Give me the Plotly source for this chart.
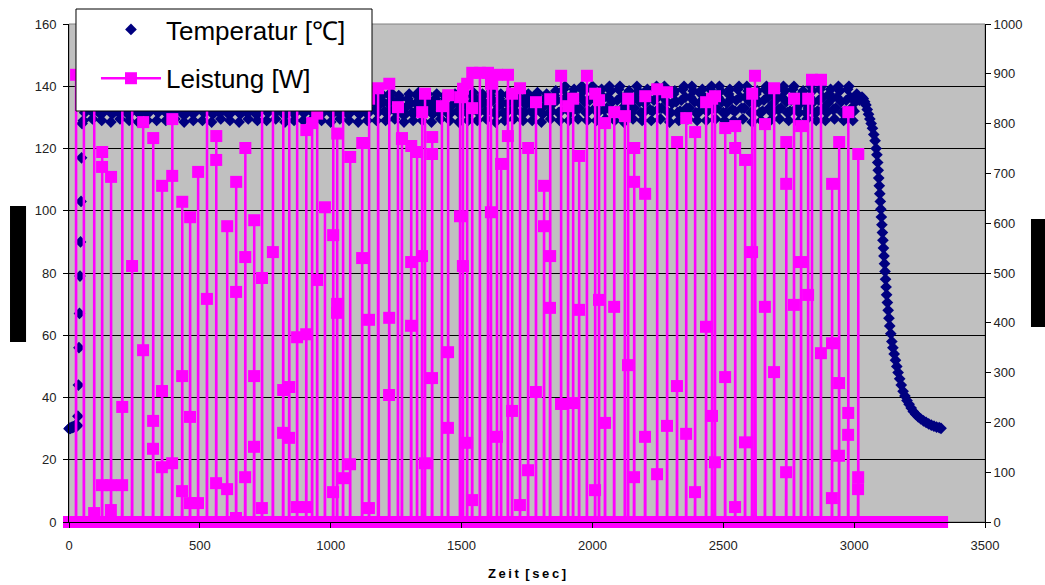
import plotly.graph_objects as go

# ---------------- data ----------------
# Temperature [°C]: start, plateau (5 s samples), cooling
temp_start_t = [0, 3, 6, 9, 12, 15, 18, 21, 24, 27, 30, 32, 34, 36, 38, 40, 42, 44, 46, 48, 50]
temp_start_v = [30.0, 30.2, 30.1, 30.4, 30.3, 30.6, 30.5, 30.8, 31.0, 30.7, 31.2, 30.9, 34, 44, 56, 67, 79, 90, 103, 117, 128]

temp_plateau_t0 = 55
temp_plateau_step = 5
temp_plateau_v = [
    129, 131.5, 134, 136.5, 137.5, 135, 132, 129.5, 132, 134.5, 137, 136, 133.5, 131,
    129, 131.5, 134.5, 137, 138, 135.5, 132.5, 128.5, 131, 133.5, 136, 137.5, 134.5, 131.5,
    129.5, 132, 134.5, 137, 136, 133.5, 131, 129, 131.5, 134, 136.5, 137.5, 135, 132,
    128.5, 131, 133.5, 136, 137.5, 134.5, 131.5, 129, 131.5, 134.5, 137, 138, 135.5, 132.5,
    129, 131.5, 134, 136.5, 137.5, 135, 132, 129, 131.5, 134.5, 137, 138, 135.5, 132.5,
    129.5, 132, 134.5, 137, 136, 133.5, 131, 128.5, 131, 133.5, 136, 137.5, 134.5, 131.5,
    129, 131.5, 134.5, 137, 138, 135.5, 132.5, 129, 131.5, 134, 136.5, 137.5, 135, 132,
    128.5, 131, 133.5, 136, 137.5, 134.5, 131.5, 129.5, 132, 134.5, 137, 136, 133.5, 131,
    129, 131.5, 134, 136.5, 137.5, 135, 132, 128.5, 131, 133.5, 136, 137.5, 134.5, 131.5,
    129.5, 132, 134.5, 137, 136, 133.5, 131, 129, 131.5, 134.5, 137, 138, 135.5, 132.5,
    129, 131.5, 134.5, 137, 138, 135.5, 132.5, 129.5, 132, 134.5, 137, 136, 133.5, 131,
    128.5, 131, 133.5, 136, 137.5, 134.5, 131.5, 129, 131.5, 134, 136.5, 137.5, 135, 132,
    129, 131.5, 134, 136.5, 137.5, 135, 132, 129.5, 132, 134.5, 137, 136, 133.5, 131,
    129, 131.5, 134.5, 137, 138, 135.5, 132.5, 128.5, 131, 133.5, 136, 137.5, 134.5, 131.5,
    129.5, 132, 134.5, 137, 136, 133.5, 131, 129, 131.5, 134, 136.5, 137.5, 135, 132,
    128.5, 131, 133.5, 136, 137.5, 134.5, 131.5, 129, 131.5, 134.5, 137, 138, 135.5, 132.5,
    129, 131.5, 134, 136.5, 137.5, 135, 132, 129, 131.5, 134.5, 137, 138, 135.5, 132.5,
    129.5, 132, 134.5, 137, 136, 133.5, 131, 128.5, 131, 133.5, 136, 137.5, 134.5, 131.5,
    129, 131.5, 134.5, 137, 138, 135.5, 132.5, 129, 131.5, 134, 136.5, 137.5, 135, 132,
    128.5, 131, 133.5, 136, 137.5, 134.5, 131.5, 129.5, 132, 134.5, 137, 136, 133.5, 131,
    129, 131.5, 134, 136.5, 137.5, 135, 132, 128.5, 131, 133.5, 136, 137.5, 134.5, 131.5,
    129, 131.5, 134.5, 137, 138, 135.5, 132.5, 129, 131.5, 134, 136.5, 137.5, 135, 132,
    129.5, 132, 134.5, 137, 138.5, 135.5, 131.5, 128.5, 131, 133.5, 136, 137.5, 134.5, 131.5,
    129, 131.5, 134.5, 137, 138, 135.5, 132.5, 129.5, 132, 134.5, 137, 138.5, 135.5, 131.5,
    129, 131.5, 134, 136.5, 137.5, 135, 132, 129, 131.5, 134.5, 137, 138, 135.5, 132.5,
    128.5, 131, 133.5, 136, 137.5, 134.5, 131.5, 129.5, 132, 134.5, 137, 138.5, 135.5, 131.5,
    129, 132, 135.5, 139, 140, 136.5, 133, 129, 131.5, 134.5, 137.5, 139, 136, 132.5,
    129.5, 133, 136.5, 140, 138.5, 135, 131.5, 129, 132, 135.5, 139, 140, 136.5, 133,
    129, 131.5, 134.5, 137.5, 139, 136, 132.5, 129.5, 133, 136.5, 140, 138.5, 135, 131.5,
    129, 132, 135.5, 139, 140, 136.5, 133, 128.5, 131.5, 134.5, 137.5, 138.5, 135, 131.5,
    129.5, 133, 136.5, 140, 138.5, 135, 131.5, 129, 131.5, 134.5, 137.5, 139, 136, 132.5,
    129, 132, 135.5, 139, 140, 136.5, 133, 129.5, 133, 136.5, 140, 138.5, 135, 131.5,
    128.5, 131.5, 134.5, 137.5, 138.5, 135, 131.5, 129, 132, 135.5, 139, 140, 136.5, 133,
    129.5, 133, 136.5, 140, 138.5, 135, 131.5, 129, 131.5, 134.5, 137.5, 139, 136, 132.5,
    129, 132, 135.5, 139, 140, 136.5, 133, 129.5, 133, 136.5, 140, 138.5, 135, 131.5,
    129, 131.5, 134.5, 137.5, 139, 136, 132.5, 129, 132, 135.5, 139, 140, 136.5, 133,
    129.5, 133, 136.5, 140, 138.5, 135, 131.5, 128.5, 131.5, 134.5, 137.5, 138.5, 135, 131.5,
    129, 132, 135.5, 139, 140, 136.5, 133, 129, 131.5, 134.5, 137.5, 139, 136, 132.5,
    129.5, 133, 136.5, 140, 138.5, 135, 131.5, 129, 132, 135.5, 139, 140, 136.5, 133,
    128.5, 131.5, 134.5, 137.5, 138.5, 135, 131.5, 129.5, 133, 136.5, 140, 138.5, 135, 131.5,
    129, 132, 135.5, 139, 140, 136.5, 133, 129, 131.5, 134.5, 137.5, 139, 136, 132.5,
    129.5, 133, 136.5, 140, 138.5, 135, 131.5, 129, 132, 135.5, 139, 140, 136.5, 133,
    129, 132, 135, 137.5, 136.5, 135.5, 136, 136.5,
]

cool_t = [3035, 3040, 3045, 3050, 3055, 3060, 3065, 3070, 3075, 3080, 3084, 3087, 3090, 3092, 3094, 3096, 3098, 3100,
          3102, 3104, 3106, 3108, 3110, 3112, 3114, 3116, 3118, 3120, 3122, 3124, 3127, 3130, 3133, 3136, 3140, 3144,
          3148, 3153, 3158, 3163, 3168, 3174, 3180, 3187, 3194, 3202, 3210, 3218, 3226, 3235, 3245, 3255, 3265, 3275,
          3285, 3295, 3305, 3315, 3325, 3332]
cool_v = [136, 135, 134, 132.5, 131, 129.5, 128, 126.5, 124.5, 122.5, 120, 118, 115.5, 113, 110.5, 108, 105.5, 103,
          100.5, 98, 95.5, 93, 90.5, 88, 85.5, 83, 80.5, 78, 75.5, 73, 70.5, 68, 65.5, 63, 60.5, 58,
          56, 54, 52, 50, 48, 46, 44, 42, 40.5, 39, 37.8, 36.6, 35.5, 34.6, 33.8, 33.1, 32.5, 32,
          31.5, 31.1, 30.8, 30.5, 30.3, 30.1]

# Power [W]: heating pulses (start time [s], sample values [W]) and zero samples
pulse_t = [27, 57, 96, 126, 160, 203, 241, 283, 321, 355, 394, 432, 462, 493, 527, 562, 604, 638, 673, 707,
           737, 779, 818, 841, 871, 906, 929, 948, 978, 1009, 1024, 1047, 1074, 1120, 1146, 1181, 1223, 1257,
           1272, 1307, 1330, 1349, 1360, 1387, 1425, 1448, 1494, 1505, 1521, 1540, 1570, 1601, 1612, 1635,
           1651, 1677, 1693, 1723, 1754, 1784, 1815, 1838, 1880, 1907, 1926, 1949, 1979, 2010, 2025, 2048,
           2083, 2124, 2136, 2159, 2201, 2247, 2285, 2323, 2358, 2392, 2434, 2457, 2468, 2507, 2545, 2583,
           2610, 2621, 2659, 2694, 2740, 2770, 2797, 2824, 2839, 2873, 2915, 2942, 2977, 3015]
pulse_v = [[898], [870], [18, 860], [74, 713, 743], [24, 74, 693], [74, 231, 880], [514, 870], [345, 803],
           [147, 203, 771], [110, 263, 675], [118, 695, 809], [62, 293, 643], [38, 211, 612], [38, 703],
           [448, 870], [78, 727, 775], [66, 594], [8, 462, 683], [90, 532, 751], [151, 293, 606],
           [28, 490, 880], [542, 860], [179, 265, 880], [169, 271, 850], [30, 371, 850], [30, 377, 787],
           [801], [486, 820], [632], [60, 576, 840], [420, 438, 780], [88, 860], [116, 733], [530, 761],
           [28, 406, 850], [871], [255, 410, 880], [833], [769, 771], [394, 522, 755], [743], [534, 823],
           [118, 860], [289, 739, 773], [835], [189, 341, 857], [614, 853], [514, 870], [159, 880],
           [44, 831, 902], [902], [902], [622, 880], [171, 898], [719], [775, 898], [223, 860], [34, 871],
           [104, 751], [261, 843], [594, 675], [430, 534, 849], [237, 896], [835], [239, 850], [426, 735],
           [896], [64, 860], [446, 847], [199, 801], [432, 823], [815], [315, 850], [90, 683, 751],
           [171, 659, 855], [96, 869], [193, 863], [273, 763], [177, 811], [60, 783], [392, 843], [213, 850],
           [120, 855], [291, 791], [30, 751, 795], [160, 727], [542, 860], [896], [432, 799], [301, 871],
           [100, 679, 763], [436, 850], [522, 795], [456, 850], [888], [339, 888], [48, 359, 679],
           [133, 279, 763], [175, 219, 823], [66, 90, 739]]
power_zero_t = list(range(0, 3340, 8))

# ---------------- build series ----------------
temp_t = list(temp_start_t)
temp_v = list(temp_start_v)
for i, v in enumerate(temp_plateau_v):
    temp_t.append(temp_plateau_t0 + i * temp_plateau_step)
    temp_v.append(v)
temp_t += cool_t
temp_v += cool_v

pts = []
busy = []
for tp, vals in zip(pulse_t, pulse_v):
    pts.append((tp - 0.6, 0))
    for k, v in enumerate(vals):
        pts.append((tp + 0.4 * k, v))
    end = tp + 0.4 * len(vals)
    pts.append((end, 0))
    busy.append((tp - 0.6, end))
for t in power_zero_t:
    if not any(a - 1 <= t <= b + 1 for a, b in busy):
        pts.append((t, 0))
pts.sort(key=lambda p: p[0])
pow_t = [p[0] for p in pts]
pow_v = [p[1] for p in pts]

# ---------------- figure ----------------
FONT = "Arial, 'Liberation Sans', sans-serif"
fig = go.Figure()
fig.add_trace(go.Scatter(
    x=temp_t, y=temp_v, mode="markers", name="Temperatur [℃]", legendgroup="a",
    marker=dict(symbol="diamond", size=9, color="#000080", line=dict(width=0)),
    yaxis="y", cliponaxis=False,
))
fig.add_trace(go.Scatter(
    x=pow_t, y=pow_v, mode="lines+markers", name="Leistung [W]", legendgroup="b",
    line=dict(color="#FF00FF", width=2.5),
    marker=dict(symbol="square", size=12, color="#FF00FF", line=dict(width=0)),
    yaxis="y2", cliponaxis=False,
))

fig.update_layout(
    width=1045, height=585,
    margin=dict(l=69, r=60, t=24, b=63, autoexpand=False),
    paper_bgcolor="white", plot_bgcolor="#C0C0C0",
    font=dict(family=FONT, size=13, color="black"),
    showlegend=True,
    legend=dict(
        xref="container", yref="container",
        x=0.0727, y=0.9897, xanchor="left", yanchor="top",
        bgcolor="rgba(0,0,0,0)", borderwidth=0,
        font=dict(family=FONT, size=26, color="black"),
        itemwidth=60, indentation=20, tracegroupgap=12, traceorder="grouped",
    ),
    xaxis=dict(
        range=[0, 3500], dtick=500, tick0=0, showgrid=False, zeroline=False, automargin=False,
        showline=True, linecolor="black", linewidth=1,
        ticks="outside", ticklen=5, tickcolor="black", ticklabelstandoff=6,
        tickfont=dict(family=FONT, size=13, color="#222"),
        title=dict(text="<b>Z\u2009e\u2009i\u2009t\u2002[\u2009s\u2009e\u2009c\u2009]</b>",
                   font=dict(family=FONT, size=13, color="black"), standoff=17),
    ),
    yaxis=dict(
        range=[0, 160], dtick=20, tick0=0, showgrid=True, gridcolor="black", gridwidth=1,
        zeroline=False, showline=True, linecolor="black", linewidth=1, automargin=False,
        ticks="outside", ticklen=5, tickcolor="black", ticklabelstandoff=4,
        tickfont=dict(family=FONT, size=13, color="#222"),
    ),
    yaxis2=dict(
        range=[0, 1000], dtick=100, tick0=0, overlaying="y", side="right", automargin=False,
        showgrid=False, zeroline=False, showline=True, linecolor="black", linewidth=1,
        ticks="outside", ticklen=5, tickcolor="black",
        tickfont=dict(family=FONT, size=13, color="#222"),
    ),
    shapes=[
        dict(type="rect", xref="paper", yref="paper", x0=0, x1=1, y0=0, y1=1,
             line=dict(color="#808080", width=1), fillcolor="rgba(0,0,0,0)", layer="between"),
        dict(type="rect", xref="paper", yref="paper", x0=0.00764, x1=0.3308, y0=0.8253, y1=1.0301,
             line=dict(color="black", width=1), fillcolor="white", layer="above"),
        dict(type="rect", xref="paper", yref="paper", x0=-0.0644, x1=-0.0469, y0=0.3614, y1=0.6345,
             line=dict(width=0), fillcolor="black", layer="above"),
        dict(type="rect", xref="paper", yref="paper", x0=1.0502, x1=1.0700, y0=0.3916, y1=0.6084,
             line=dict(width=0), fillcolor="black", layer="above"),
    ],
)

fig.write_html("out.html")
